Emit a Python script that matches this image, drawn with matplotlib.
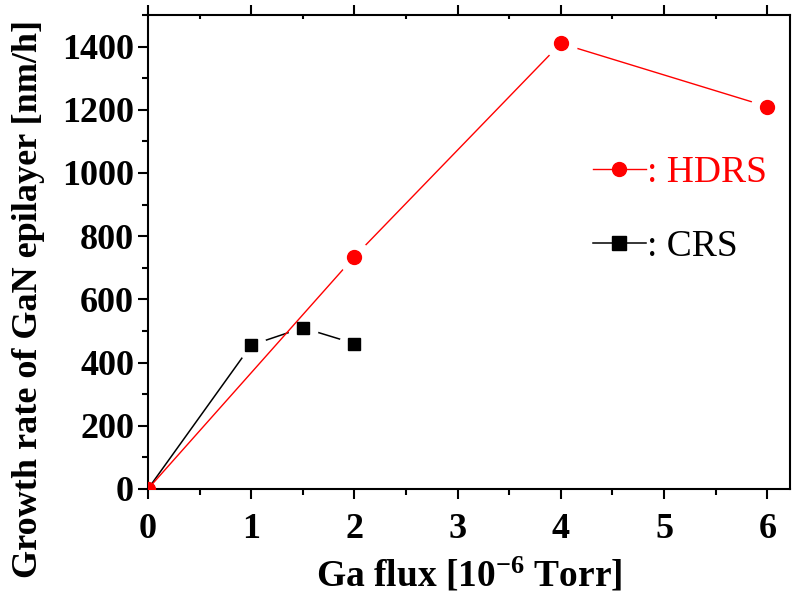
import matplotlib
matplotlib.use("Agg")
import matplotlib.pyplot as plt
from matplotlib.lines import Line2D
from matplotlib.ticker import MultipleLocator

# Growth rate vs Ga flux for two source types
hdrs_flux = [0, 2, 4, 6]
hdrs_rate = [0, 735, 1410, 1210]
crs_flux = [0, 1, 1.5, 2]
crs_rate = [0, 455, 510, 460]

plt.rcParams["font.family"] = ["Liberation Serif", "DejaVu Serif"]
plt.rcParams["mathtext.fontset"] = "custom"
plt.rcParams["mathtext.rm"] = "Liberation Serif:bold"
plt.rcParams["mathtext.bf"] = "Liberation Serif:bold"
plt.rcParams["mathtext.it"] = "Liberation Serif:bold"

fig = plt.figure(figsize=(7.93, 5.97), dpi=100)
ax = fig.add_axes([0.1866, 0.181, 0.8096, 0.794])

red = "#ff0000"
# CRS series: line, white halo to open gaps around markers, markers
ax.plot(crs_flux, crs_rate, color="black", lw=1.1, zorder=2, clip_on=False)
ax.plot(crs_flux[1:], crs_rate[1:], ls="none", marker="o", ms=22,
        mfc="white", mec="none", zorder=3)
# HDRS series
ax.plot(hdrs_flux, hdrs_rate, color=red, lw=1.0, zorder=4)
ax.plot(hdrs_flux[1:], hdrs_rate[1:], ls="none", marker="o", ms=24,
        mfc="white", mec="none", zorder=5)
ax.plot(hdrs_flux, hdrs_rate, ls="none", marker="o", ms=10,
        mfc=red, mec=red, zorder=6)
ax.plot(crs_flux[1:], crs_rate[1:], ls="none", marker="s", ms=8,
        mfc="black", mec="black", zorder=7)

ax.set_xlim(0, 6.22)
ax.set_ylim(0, 1500)
ax.xaxis.set_major_locator(MultipleLocator(1))
ax.xaxis.set_minor_locator(MultipleLocator(0.5))
ax.yaxis.set_major_locator(MultipleLocator(200))
ax.yaxis.set_minor_locator(MultipleLocator(100))

for s in ax.spines.values():
    s.set_linewidth(1.5)

ax.tick_params(which="both", direction="out", width=1.5, top=True, right=False)
ax.tick_params(which="major", length=7)
ax.tick_params(which="minor", length=4)
ax.tick_params(axis="x", which="both", top=True, labeltop=False)
# top axis ticks point inward
for t in ax.xaxis.get_major_ticks() + ax.xaxis.get_minor_ticks():
    t.tick2line.set_marker(3)
    t.tick2line.set_markersize(3)

for lab in ax.get_xticklabels() + ax.get_yticklabels():
    lab.set_fontweight("bold")
    lab.set_fontsize(26)
ax.tick_params(axis="x", pad=10)
ax.tick_params(axis="y", pad=3)

ax.set_xlabel("Ga flux [10$^{-6}$ Torr]", fontsize=27, fontweight="bold", labelpad=8)
ax.set_ylabel("Growth rate of GaN epilayer [nm/h]", fontsize=26, fontweight="bold", labelpad=2)
ax.yaxis.set_label_coords(-0.16, 0.40)

handles = [
    Line2D([], [], color=red, lw=1.0, marker="o", ms=10, mfc=red, mec=red),
    Line2D([], [], color="black", lw=1.1, marker="s", ms=10, mfc="black", mec="black"),
]
leg = ax.legend(handles, [": HDRS", ": CRS"], loc="upper left",
                bbox_to_anchor=(0.67, 0.735), frameon=False, fontsize=27,
                handlelength=1.4, handletextpad=0.05, labelspacing=1.05,
                borderaxespad=0)
leg.get_texts()[0].set_color(red)

fig.savefig("out.png", dpi=100)
